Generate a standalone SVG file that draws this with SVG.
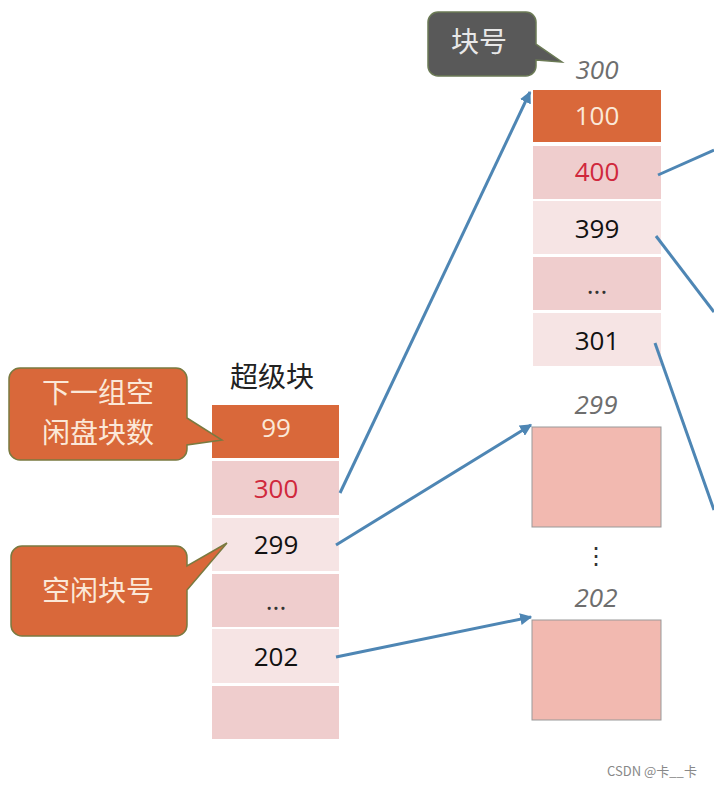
<svg xmlns="http://www.w3.org/2000/svg" width="714" height="787" viewBox="0 0 714 787">
<style>
.f{font-family:"Open Sans","Noto Sans","Noto Sans CJK SC",sans-serif}
.c{font-family:"Noto Sans CJK SC",sans-serif}
.o{fill:#d9683a}
.p1{fill:#efcdcd}
.p2{fill:#f6e4e4}
.n{font-size:26px;text-anchor:middle}
.it{font-size:26px;font-style:italic;fill:#6e6e6e;text-anchor:middle}
.ln{stroke:#4e86b4;stroke-width:3;fill:none}
</style>
<defs><marker id="a" viewBox="0 0 10 10" refX="9" refY="5" markerWidth="4" markerHeight="4" orient="auto"><path d="M0,0L10,5L0,10z" fill="#4e86b4"/></marker></defs>
<rect width="714" height="787" fill="#fff"/>
<g id="superblock" class="f">
<text x="272" y="387" class="c" font-size="28" text-anchor="middle" fill="#222">超级块</text>
<rect class="o" x="212" y="405" width="127" height="53"/>
<text class="n" x="276" y="437" fill="#fbe8d8">99</text>
<rect class="p1" x="212" y="461" width="127" height="54"/>
<text class="n" x="276" y="498" fill="#d0283c">300</text>
<rect class="p2" x="212" y="518" width="127" height="53"/>
<text class="n" x="276" y="554" fill="#111">299</text>
<rect class="p1" x="212" y="574" width="127" height="53"/>
<text class="n" x="276" y="610" fill="#333">...</text>
<rect class="p2" x="212" y="629" width="127" height="54"/>
<text class="n" x="276" y="666" fill="#111">202</text>
<rect class="p1" x="212" y="686" width="127" height="53"/>
</g>
<g id="block300" class="f">
<text class="it" x="597" y="79">300</text>
<rect class="o" x="533" y="90" width="128" height="52"/>
<text class="n" x="597" y="125" fill="#fbe8d8">100</text>
<rect class="p1" x="533" y="146" width="128" height="53"/>
<text class="n" x="597" y="181" fill="#d0283c">400</text>
<rect class="p2" x="533" y="201" width="128" height="53"/>
<text class="n" x="597" y="238" fill="#111">399</text>
<rect class="p1" x="533" y="257" width="128" height="53"/>
<text class="n" x="597" y="294" fill="#333">...</text>
<rect class="p2" x="533" y="313" width="128" height="53"/>
<text class="n" x="597" y="350" fill="#111">301</text>
</g>
<g id="block299" class="f">
<text class="it" x="596" y="414">299</text>
<rect x="532" y="427" width="129" height="100" fill="#f2b9b0" stroke="#999" stroke-width="1"/>
</g>
<text class="f" x="596" y="564" font-size="24" text-anchor="middle" fill="#333">⋮</text>
<g id="block202" class="f">
<text class="it" x="596" y="607">202</text>
<rect x="532" y="620" width="129" height="100" fill="#f2b9b0" stroke="#999" stroke-width="1"/>
</g>
<g id="callout-kuaihao">
<path d="M438,12H526a10,10 0 0 1 10,10V44L562,62L536,60V66a10,10 0 0 1 -10,10H438a10,10 0 0 1 -10,-10V22a10,10 0 0 1 10,-10z" fill="#595959" stroke="#6b7a55" stroke-width="1.5"/>
<text class="c" x="479" y="52" font-size="28" text-anchor="middle" fill="#e8e8e8">块号</text>
</g>
<g id="callout-next">
<path d="M20,368H176a11,11 0 0 1 11,11V418L222,440L187,445V449a11,11 0 0 1 -11,11H20a11,11 0 0 1 -11,-11V379a11,11 0 0 1 11,-11z" fill="#d9683a" stroke="#7a7a40" stroke-width="1.5"/>
<text class="c" x="98" y="403" font-size="28" text-anchor="middle" fill="#fbe8d8">下一组空</text>
<text class="c" x="98" y="443" font-size="28" text-anchor="middle" fill="#fbe8d8">闲盘块数</text>
</g>
<g id="callout-free">
<path d="M22,546H176a11,11 0 0 1 11,11V566L227,543L187,590V625a11,11 0 0 1 -11,11H22a11,11 0 0 1 -11,-11V557a11,11 0 0 1 11,-11z" fill="#d9683a" stroke="#7a7a40" stroke-width="1.5"/>
<text class="c" x="98" y="601" font-size="28" text-anchor="middle" fill="#fbe8d8">空闲块号</text>
</g>
<g id="connectors">
<line class="ln" x1="340" y1="493" x2="530" y2="92" marker-end="url(#a)"/>
<line class="ln" x1="336" y1="545" x2="531" y2="425" marker-end="url(#a)"/>
<line class="ln" x1="336" y1="657" x2="531" y2="617" marker-end="url(#a)"/>
<line class="ln" x1="658" y1="175" x2="714" y2="150"/>
<line class="ln" x1="656" y1="236" x2="714" y2="312"/>
<line class="ln" x1="655" y1="343" x2="714" y2="510"/>
</g>
<text class="c" x="652" y="776" font-size="13" text-anchor="middle" fill="#888">CSDN @卡__卡</text>
</svg>
